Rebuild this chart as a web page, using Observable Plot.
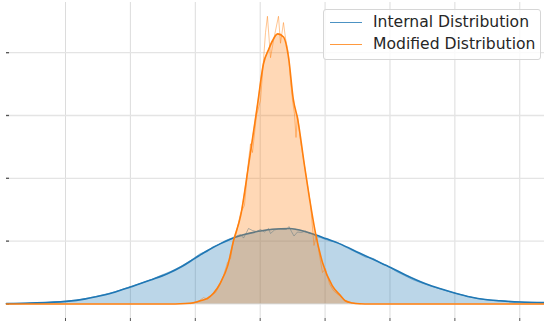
<!DOCTYPE html>
<html>
<head>
<meta charset="utf-8">
<script src="https://cdn.jsdelivr.net/npm/d3@7"></script>
<script src="https://cdn.jsdelivr.net/npm/@observablehq/plot@0.6"></script>
<style>
  html, body { margin: 0; padding: 0; background: #fff; }
  #wrap { position: relative; width: 544px; height: 329px; overflow: hidden; font-family: "DejaVu Sans", sans-serif; }
  #legend { position: absolute; left: 323px; top: 9px; width: 216px; height: 49px; border: 1px solid #d6d6d6; border-radius: 3px; background: rgba(255,255,255,0.8); }
  .lg-line { position: absolute; left: 6px; width: 32px; height: 0; border-top: 1.5px solid; }
  .lg-text { position: absolute; left: 49px; font-size: 15.6px; color: #262626; line-height: 18px; white-space: nowrap; }
</style>
</head>
<body>
<div id="wrap">
  <div id="chart"></div>
  <div id="legend"></div>
</div>
<script>
// ---- data (x in arbitrary units, y = density units) ----
const xTicks = [0, 1, 2, 3, 4, 5, 6, 7];
const yTicks = [0, 1, 2, 3, 4];
const seriesNames = ["Internal Distribution", "Modified Distribution"];
const seriesColors = ["#1f77b4", "#ff7f0e"];

// smooth density (KDE) of the internal distribution
const internalKdeX = [-0.91, -0.54, 0.01, 0.31, 0.54, 0.77, 1.00, 1.31, 1.57, 1.80, 2.00, 2.19, 2.39, 2.54, 2.74, 3.00, 3.19, 3.45, 3.70, 3.85, 4.01, 4.22, 4.53, 4.78, 5.01, 5.24, 5.55, 5.78, 6.01, 6.24, 6.47, 6.70, 7.00, 7.38];
const internalKdeY = [0.006, 0.014, 0.04, 0.08, 0.13, 0.19, 0.27, 0.38, 0.48, 0.60, 0.73, 0.85, 0.96, 1.03, 1.10, 1.16, 1.19, 1.20, 1.15, 1.10, 1.04, 0.96, 0.81, 0.69, 0.58, 0.46, 0.32, 0.24, 0.17, 0.11, 0.07, 0.05, 0.03, 0.02];

// raw (noisy) histogram of the internal distribution
const internalHistX = [-0.909, -0.693, -0.462, -0.231, 0, 0.231, 0.462, 0.693, 0.847, 1.002, 1.156, 1.310, 1.464, 1.618, 1.772, 1.926, 2.080, 2.188, 2.265, 2.357, 2.465, 2.542, 2.635, 2.696, 2.743, 2.789, 2.820, 2.881, 2.943, 3.005, 3.066, 3.128, 3.159, 3.220, 3.282, 3.344, 3.405, 3.444, 3.482, 3.521, 3.575, 3.636, 3.698, 3.760, 3.806, 3.867, 3.929, 3.991, 4.083, 4.191, 4.299, 4.391, 4.499, 4.622, 4.746, 4.854, 4.977, 5.100, 5.224, 5.347, 5.470, 5.624, 5.778, 5.932, 6.086, 6.240, 6.394, 6.579, 6.780, 6.995, 7.196, 7.381];
const internalHistY = [0.003, 0.008, 0.018, 0.027, 0.043, 0.070, 0.118, 0.174, 0.221, 0.277, 0.325, 0.381, 0.452, 0.516, 0.596, 0.691, 0.803, 0.834, 0.906, 0.946, 1.010, 1.041, 1.081, 1.105, 1.049, 1.137, 1.201, 1.169, 1.153, 1.185, 1.145, 1.201, 1.121, 1.177, 1.193, 1.185, 1.185, 1.232, 1.153, 1.081, 1.145, 1.137, 1.161, 1.121, 1.121, 1.073, 1.057, 1.033, 1.002, 0.978, 0.914, 0.866, 0.811, 0.747, 0.723, 0.651, 0.596, 0.516, 0.452, 0.389, 0.341, 0.285, 0.237, 0.189, 0.150, 0.110, 0.078, 0.054, 0.038, 0.033, 0.025, 0.022];

// smooth density (KDE) of the modified distribution
const modifiedKdeX = [-0.91, 1.69, 1.85, 1.97, 2.08, 2.19, 2.28, 2.39, 2.50, 2.59, 2.70, 2.82, 2.96, 3.05, 3.13, 3.19, 3.27, 3.36, 3.44, 3.51, 3.58, 3.68, 3.76, 3.85, 3.96, 4.11, 4.24, 4.31, 4.42, 4.53, 4.70, 7.38];
const modifiedKdeY = [0, 0, 0.006, 0.02, 0.05, 0.09, 0.17, 0.34, 0.61, 1.01, 1.41, 2.20, 3.18, 3.82, 4.05, 4.19, 4.30, 4.25, 3.90, 3.26, 2.93, 2.22, 1.68, 1.14, 0.66, 0.29, 0.13, 0.05, 0.015, 0.003, 0, 0];

// raw (noisy) histogram of the modified distribution
const modifiedHistX = [1.926, 2.034, 2.126, 2.188, 2.250, 2.311, 2.373, 2.434, 2.496, 2.542, 2.589, 2.635, 2.696, 2.758, 2.820, 2.851, 2.881, 2.943, 3.005, 3.051, 3.082, 3.112, 3.159, 3.205, 3.236, 3.282, 3.313, 3.359, 3.390, 3.436, 3.467, 3.498, 3.528, 3.552, 3.575, 3.621, 3.683, 3.729, 3.775, 3.829, 3.867, 3.914, 3.960, 4.006, 4.068, 4.129, 4.222, 4.314, 4.422, 4.545];
const modifiedHistY = [0.003, 0.03, 0.10, 0.078, 0.134, 0.18, 0.29, 0.45, 0.66, 0.72, 1.01, 1.14, 1.44, 1.57, 2.28, 2.55, 2.41, 3.00, 3.24, 3.88, 4.32, 4.58, 3.92, 4.19, 4.35, 4.58, 4.15, 4.48, 4.23, 3.99, 3.56, 3.24, 3.03, 2.65, 3.00, 2.60, 2.20, 1.89, 1.60, 0.93, 1.09, 0.77, 0.50, 0.56, 0.32, 0.21, 0.13, 0.054, 0.014, 0.003];

const toRows = (xs, ys) => xs.map((x, i) => ({x, y: ys[i]}));
const internalKde = toRows(internalKdeX, internalKdeY);
const internalHist = toRows(internalHistX, internalHistY);
const modifiedKde = toRows(modifiedKdeX, modifiedKdeY);
const modifiedHist = toRows(modifiedHistX, modifiedHistY);

const chart = Plot.plot({
  width: 544,
  height: 329,
  marginLeft: 6,
  marginRight: 0,
  marginTop: 2,
  marginBottom: 11,
  x: {domain: [-0.909, 7.381]},
  y: {domain: [-0.232, 4.799]},
  style: {background: "white", fontFamily: "DejaVu Sans, sans-serif"},
  marks: [
    Plot.ruleX(xTicks, {stroke: "#dcdcdc", strokeWidth: 1}),
    Plot.ruleY(yTicks, {stroke: "#e4e4e4", strokeWidth: 1.3}),
    Plot.axisX({ticks: xTicks, tickSize: 3, tickFormat: () => "", label: null, stroke: "#555", strokeWidth: 1}),
    Plot.axisY({ticks: yTicks, tickSize: -3, tickFormat: () => "", label: null, stroke: "#555", strokeWidth: 1.3}),
    Plot.areaY(internalKde, {x: "x", y: "y", fill: seriesColors[0], fillOpacity: 0.3, curve: "monotone-x"}),
    Plot.line(internalHist, {x: "x", y: "y", stroke: seriesColors[0], strokeOpacity: 0.5, strokeWidth: 1}),
    Plot.line(internalKde, {x: "x", y: "y", stroke: seriesColors[0], strokeWidth: 1.6, curve: "monotone-x"}),
    Plot.areaY(modifiedKde, {x: "x", y: "y", fill: seriesColors[1], fillOpacity: 0.3, curve: "monotone-x"}),
    Plot.line(modifiedHist, {x: "x", y: "y", stroke: seriesColors[1], strokeOpacity: 0.45, strokeWidth: 1}),
    Plot.line(modifiedKde, {x: "x", y: "y", stroke: seriesColors[1], strokeWidth: 1.6, curve: "monotone-x"})
  ]
});
document.getElementById("chart").appendChild(chart);

// legend (overlaid top-right, like the original)
const legend = document.getElementById("legend");
seriesNames.forEach((name, i) => {
  const top = 12 + i * 22;
  const ln = document.createElement("div");
  ln.className = "lg-line";
  ln.style.top = top + "px";
  ln.style.borderTopColor = seriesColors[i];
  ln.style.opacity = 0.8;
  legend.appendChild(ln);
  const tx = document.createElement("div");
  tx.className = "lg-text";
  tx.style.top = (top - 9) + "px";
  tx.textContent = name;
  legend.appendChild(tx);
});
</script>
</body>
</html>
